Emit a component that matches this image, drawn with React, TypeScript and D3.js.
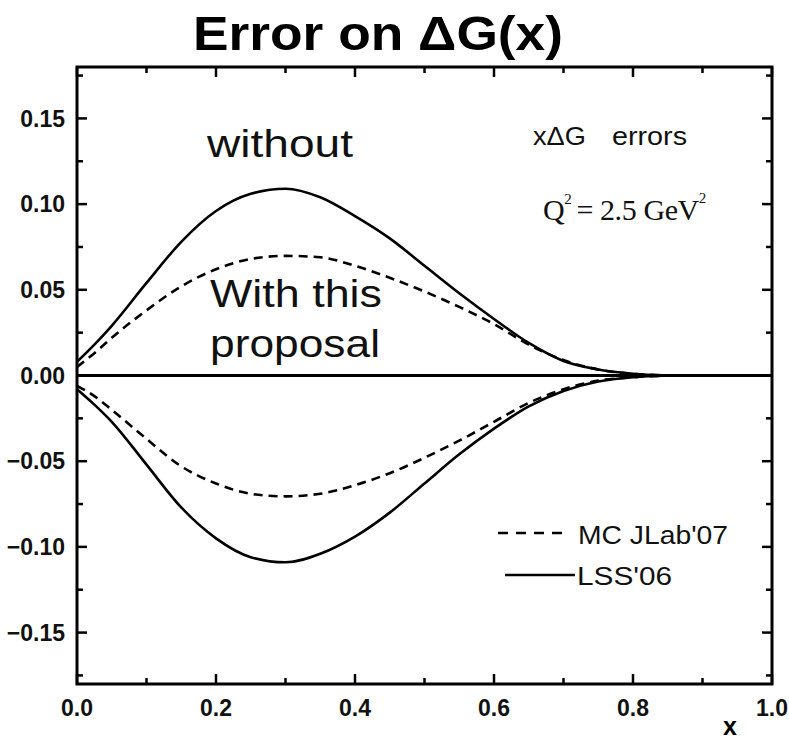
import React from "react";
import * as d3 from "d3";

// x grid shared by all curves
const xs = [0, 0.025, 0.05, 0.1, 0.15, 0.2, 0.25, 0.3, 0.35, 0.4, 0.45, 0.5, 0.55, 0.6, 0.65, 0.7, 0.75, 0.8, 0.85];

// LSS'06 error band (solid)
const lssUpper = [0.008, 0.018, 0.029, 0.054, 0.078, 0.096, 0.106, 0.109, 0.104, 0.093, 0.08, 0.064, 0.048, 0.033, 0.019, 0.0085, 0.0035, 0.001, 0];
const lssLower = [-0.008, -0.017, -0.027, -0.052, -0.077, -0.095, -0.106, -0.109, -0.104, -0.094, -0.08, -0.063, -0.046, -0.031, -0.018, -0.009, -0.0035, -0.001, 0];

// MC JLab'07 error band (dashed)
const mcUpper = [0.005, 0.013, 0.022, 0.038, 0.052, 0.062, 0.068, 0.0698, 0.069, 0.064, 0.057, 0.049, 0.04, 0.03, 0.018, 0.009, 0.0035, 0.001, 0];
const mcLower = [-0.006, -0.012, -0.02, -0.037, -0.053, -0.063, -0.069, -0.0705, -0.069, -0.064, -0.057, -0.048, -0.038, -0.027, -0.016, -0.008, -0.003, -0.001, 0];

const xTicks = [0, 0.2, 0.4, 0.6, 0.8, 1.0];
const yTicks = [-0.15, -0.1, -0.05, 0, 0.05, 0.1, 0.15];

const W = 789;
const H = 740;
const plot = { left: 77, right: 772, top: 67, bottom: 684 };

const x = d3.scaleLinear().domain([0, 1]).range([plot.left, plot.right]);
const y = d3.scaleLinear().domain([-0.18, 0.18]).range([plot.bottom, plot.top]);

const line = d3
  .line<[number, number]>()
  .x((d) => x(d[0]))
  .y((d) => y(d[1]))
  .curve(d3.curveMonotoneX);

const pts = (vals: number[]) => xs.map((v, i) => [v, vals[i]] as [number, number]);

const sans = "'Liberation Sans', Arial, sans-serif";
const serif = "'Liberation Serif', 'Times New Roman', serif";

export default function App() {
  const xMinor = d3.range(0.1, 1.0, 0.2);
  const yMinor = d3.range(-0.175, 0.18, 0.05);
  const major = 10;
  const minor = 6;
  const dash = "9,6";

  return (
    <svg
      width={W}
      height={H}
      style={{ position: "absolute", left: 0, top: 0, background: "#fff" }}
    >
      <rect x={0} y={0} width={W} height={H} fill="#fff" />

      {/* title */}
      <text x={378} y={50} fontFamily={sans} fontWeight="bold" fontSize={48} textAnchor="middle" textLength={370} lengthAdjust="spacingAndGlyphs">
        Error on ΔG(x)
      </text>

      {/* ticks */}
      <g stroke="#000" strokeWidth={2.5}>
        {xTicks.map((t) => (
          <g key={"xt" + t}>
            <line x1={x(t)} x2={x(t)} y1={plot.bottom} y2={plot.bottom - major} />
            <line x1={x(t)} x2={x(t)} y1={plot.top} y2={plot.top + major} />
          </g>
        ))}
        {xMinor.map((t) => (
          <g key={"xm" + t}>
            <line x1={x(t)} x2={x(t)} y1={plot.bottom} y2={plot.bottom - minor} />
            <line x1={x(t)} x2={x(t)} y1={plot.top} y2={plot.top + minor} />
          </g>
        ))}
        {yTicks.map((t) => (
          <g key={"yt" + t}>
            <line x1={plot.left} x2={plot.left + major} y1={y(t)} y2={y(t)} />
            <line x1={plot.right} x2={plot.right - major} y1={y(t)} y2={y(t)} />
          </g>
        ))}
        {yMinor.map((t) => (
          <g key={"ym" + t}>
            <line x1={plot.left} x2={plot.left + minor} y1={y(t)} y2={y(t)} />
            <line x1={plot.right} x2={plot.right - minor} y1={y(t)} y2={y(t)} />
          </g>
        ))}
      </g>

      {/* tick labels */}
      <g fontFamily={sans} fontWeight="bold" fontSize={23} fill="#111">
        {xTicks.map((t) => (
          <text key={"xl" + t} x={x(t)} y={716} textAnchor="middle">
            {d3.format(".1f")(t)}
          </text>
        ))}
        {yTicks.map((t) => (
          <text key={"yl" + t} x={65} y={y(t)} dy="0.36em" textAnchor="end">
            {d3.format(".2f")(t)}
          </text>
        ))}
      </g>

      {/* axis title */}
      <text x={730} y={735} fontFamily={sans} fontWeight="bold" fontSize={25} textAnchor="middle">
        x
      </text>

      {/* zero line */}
      <line x1={x(0)} x2={x(1)} y1={y(0)} y2={y(0)} stroke="#000" strokeWidth={3} />

      {/* curves */}
      <g fill="none" stroke="#000" strokeWidth={2.6}>
        <path d={line(pts(lssUpper)) || ""} />
        <path d={line(pts(lssLower)) || ""} />
        <path d={line(pts(mcUpper)) || ""} strokeDasharray={dash} />
        <path d={line(pts(mcLower)) || ""} strokeDasharray={dash} />
      </g>

      {/* frame */}
      <rect
        x={plot.left}
        y={plot.top}
        width={plot.right - plot.left}
        height={plot.bottom - plot.top}
        fill="none"
        stroke="#000"
        strokeWidth={3}
      />

      {/* annotations */}
      <g fontFamily={sans} fontSize={38} fill="#111">
        <text x={207} y={157} textLength={146} lengthAdjust="spacingAndGlyphs">without</text>
        <text x={210} y={307} textLength={172} lengthAdjust="spacingAndGlyphs">With this</text>
        <text x={210} y={357} textLength={170} lengthAdjust="spacingAndGlyphs">proposal</text>
      </g>

      <text x={533} y={145} fontFamily={sans} fontSize={25} fill="#111">
        <tspan textLength={53} lengthAdjust="spacingAndGlyphs">xΔG</tspan>
        <tspan x={612} textLength={75} lengthAdjust="spacingAndGlyphs">errors</tspan>
      </text>

      <text x={543} y={220} fontFamily={serif} fontSize={30} fill="#111" letterSpacing={-0.4}>
        <tspan>Q</tspan>
        <tspan dy={-16} fontSize={15}>2</tspan>
        <tspan dy={16} dx={5}>= 2.5 GeV</tspan>
        <tspan dy={-17} fontSize={15}>2</tspan>
      </text>

      {/* legend */}
      <line x1={498} x2={563} y1={533} y2={533} stroke="#000" strokeWidth={2.4} strokeDasharray="10,8" />
      <text x={578} y={544} fontFamily={sans} fontSize={26} fill="#111" textLength={150} lengthAdjust="spacingAndGlyphs">
        MC JLab'07
      </text>
      <line x1={505} x2={575} y1={575} y2={575} stroke="#000" strokeWidth={2.6} />
      <text x={577} y={585} fontFamily={sans} fontSize={26} fill="#111" textLength={95} lengthAdjust="spacingAndGlyphs">
        LSS'06
      </text>
    </svg>
  );
}
